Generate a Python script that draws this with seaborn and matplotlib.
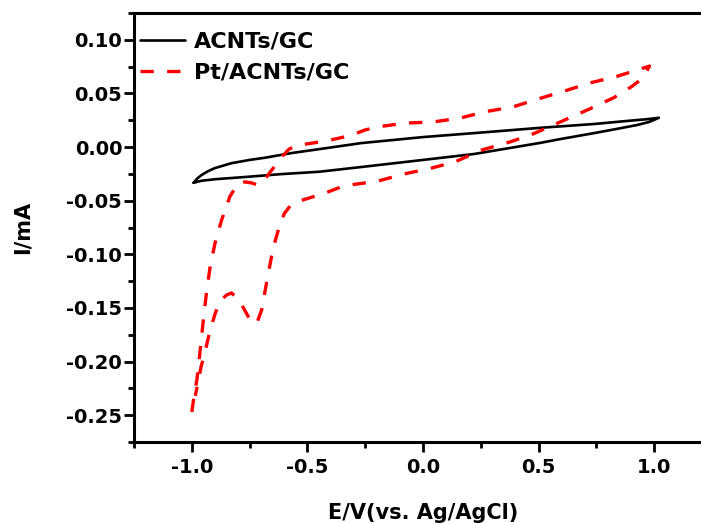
import matplotlib
matplotlib.use("Agg")
import matplotlib.pyplot as plt
from matplotlib.ticker import MultipleLocator, FormatStrFormatter
import pandas as pd
import seaborn as sns

# Cyclic voltammograms: potential E (V vs. Ag/AgCl) and current I (mA), one closed loop each
acnt_e = [-0.992, -0.975, -0.957, -0.93, -0.90, -0.828, -0.75, -0.685, -0.569, -0.448,
          -0.267, 0.0, 0.25, 0.51, 0.74, 0.88, 0.97, 1.02,
          0.98, 0.925, 0.84, 0.74, 0.595, 0.51, 0.22, 0.0, -0.267, -0.448, -0.612,
          -0.756, -0.90, -0.96, -0.992]
acnt_i = [-0.0333, -0.029, -0.026, -0.0225, -0.0196, -0.015, -0.012, -0.010, -0.0056, -0.0019,
          0.0037, 0.0093, 0.0135, 0.018, 0.0215, 0.0243, 0.026, 0.0273,
          0.0235, 0.0205, 0.017, 0.013, 0.0075, 0.004, -0.0065, -0.012, -0.0186, -0.023, -0.0252,
          -0.0277, -0.030, -0.0315, -0.0333]

pt_e = [-1.0, -0.99, -0.978, -0.964, -0.950, -0.935, -0.921, -0.900, -0.871, -0.835,
        -0.80, -0.77, -0.74, -0.715, -0.69, -0.66, -0.635, -0.61, -0.58, -0.54,
        -0.50, -0.44, -0.38, -0.31, -0.25, -0.19, -0.075, 0.04, 0.16, 0.27,
        0.39, 0.50, 0.616, 0.72, 0.84, 0.95, 0.98,
        0.96, 0.94, 0.90, 0.825, 0.71, 0.60, 0.48, 0.38, 0.25, 0.142,
        0.03, -0.08, -0.20, -0.34, -0.425, -0.50, -0.545, -0.575, -0.60, -0.62,
        -0.64, -0.655, -0.677, -0.698, -0.715, -0.73, -0.756, -0.792, -0.828, -0.85,
        -0.87, -0.885, -0.90, -0.921, -0.943, -0.96, -0.971, -0.985]
pt_i = [-0.247, -0.232, -0.217, -0.19, -0.161, -0.133, -0.112, -0.090, -0.068, -0.046,
        -0.034, -0.0325, -0.0335, -0.0355, -0.032, -0.023, -0.016, -0.009, -0.002, 0.002,
        0.003, 0.005, 0.0075, 0.011, 0.016, 0.019, 0.0224, 0.0233, 0.027, 0.033,
        0.0375, 0.045, 0.0525, 0.0597, 0.066, 0.0735, 0.0755,
        0.068, 0.0625, 0.056, 0.046, 0.0345, 0.024, 0.0126, 0.005, -0.003, -0.0135,
        -0.020, -0.025, -0.032, -0.036, -0.043, -0.048, -0.051, -0.055, -0.062, -0.073,
        -0.088, -0.102, -0.127, -0.152, -0.162, -0.165, -0.158, -0.144, -0.136, -0.138,
        -0.142, -0.147, -0.156, -0.171, -0.191, -0.205, -0.217, -0.232]

series_names = ["ACNTs/GC", "Pt/ACNTs/GC"]

sns.set_style("ticks")
plt.rcParams["font.family"] = ["DejaVu Sans"]
plt.rcParams["font.weight"] = "bold"
plt.rcParams["axes.unicode_minus"] = False
for key in ["text.color", "axes.labelcolor", "xtick.color", "ytick.color", "axes.edgecolor"]:
    plt.rcParams[key] = "black"

df_acnt = pd.DataFrame({"E": acnt_e, "I": acnt_i, "step": range(len(acnt_e))})
df_pt = pd.DataFrame({"E": pt_e, "I": pt_i, "step": range(len(pt_e))})

fig = plt.figure(figsize=(7.01, 5.23), dpi=100)
ax = fig.add_axes([134 / 701, 81 / 523, 578 / 701, 429 / 523])

sns.lineplot(data=df_acnt, x="E", y="I", sort=False, estimator=None, ax=ax,
             color="black", linewidth=1.9, label=series_names[0])
sns.lineplot(data=df_pt, x="E", y="I", sort=False, estimator=None, ax=ax,
             color="#ff0000", linewidth=2.4, linestyle=(0, (4, 4)),
             label=series_names[1])
for ln in ax.get_lines():
    ln.set_dash_capstyle("butt")

ax.set_xlim(-1.25, 1.25)
ax.set_ylim(-0.275, 0.125)

ax.xaxis.set_major_locator(MultipleLocator(0.5))
ax.xaxis.set_minor_locator(MultipleLocator(0.25))
ax.yaxis.set_major_locator(MultipleLocator(0.05))
ax.yaxis.set_minor_locator(MultipleLocator(0.025))
ax.xaxis.set_major_formatter(FormatStrFormatter("%.1f"))
ax.yaxis.set_major_formatter(FormatStrFormatter("%.2f"))

for side in ["left", "bottom", "top", "right"]:
    ax.spines[side].set_linewidth(2.2)
    ax.spines[side].set_color("black")

ax.tick_params(axis="both", which="major", direction="out", length=7, width=2,
               labelsize=14, color="black", labelcolor="black")
ax.tick_params(axis="both", which="minor", direction="out", length=4, width=2,
               color="black")
ax.tick_params(axis="x", which="major", pad=4.5)
ax.tick_params(axis="y", which="major", pad=1.5)
ax.tick_params(top=False, right=False, which="both")
for lab in ax.get_xticklabels() + ax.get_yticklabels():
    lab.set_fontweight("bold")

ax.set_xlabel("E/V(vs. Ag/AgCl)", fontsize=15, fontweight="bold", labelpad=19,
              color="black")
ax.set_ylabel("I/mA", fontsize=15, fontweight="bold", labelpad=24, color="black")

leg = ax.legend(loc="upper left", bbox_to_anchor=(0.0104, 0.956), frameon=False,
                borderpad=0, borderaxespad=0, handlelength=2.03, handletextpad=0.4,
                labelspacing=0.47, prop={"size": 16, "weight": "bold"})
for txt in leg.get_texts():
    txt.set_color("black")

fig.savefig("out.png", dpi=100)
